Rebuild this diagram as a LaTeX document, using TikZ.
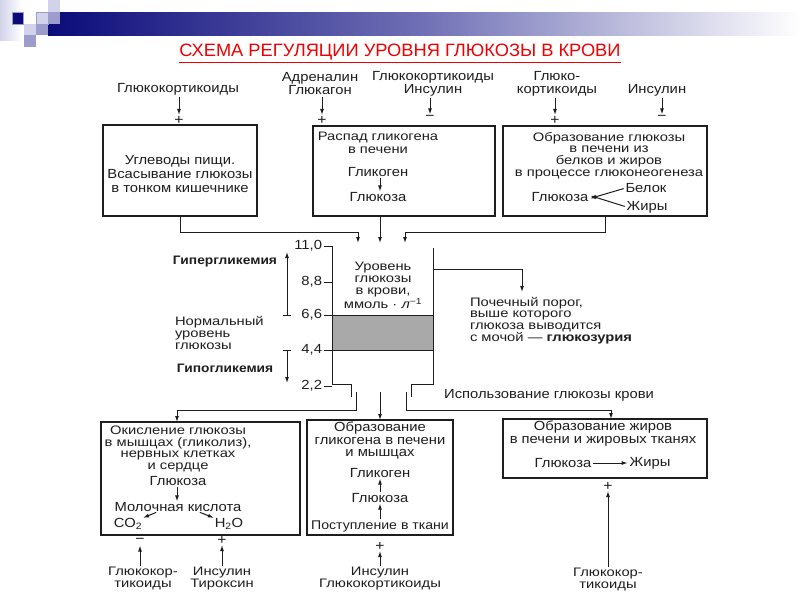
\documentclass[tikz,border=0pt]{standalone}
\usepackage{fontspec}
\usepackage{graphicx}
\setmainfont[FakeStretch=1.12]{Liberation Sans}
\newfontfamily\tightfont[FakeStretch=1.2]{Liberation Sans}
\newfontfamily\titlefont{Liberation Sans}
\usetikzlibrary{arrows.meta}
\definecolor{ink}{HTML}{1E1E1E}
\definecolor{navy}{HTML}{0B0B7A}
\definecolor{midblue}{HTML}{7070B6}
\definecolor{lav}{HTML}{D2D2EA}
\definecolor{lavm}{HTML}{9C9CCE}
\definecolor{band}{HTML}{A9A9A9}
\definecolor{titred}{HTML}{F00000}
\newcommand{\fs}[2]{\fontsize{#1}{#2}\selectfont}
\newcommand{\ts}[1]{\tightfont\fontsize{12.3}{#1}\selectfont}
\begin{document}
\begin{tikzpicture}[x=1pt,y=-1pt,
  every node/.style={inner sep=0pt, outer sep=0pt, text=ink},
  txt/.style={font=\fs{13.2}{12}, align=center},
  btxt/.style={font=\fs{12.3}{12}\bfseries, align=center},
  sg/.style={font=\fs{14}{14}},
  bx/.style={draw=ink, line width=1.3pt, anchor=north west},
  ln/.style={draw=ink, line width=1pt},
  ar/.style={draw=ink, line width=1pt, -{Latex[length=6pt,width=4pt]}},
  tk/.style={font=\fs{13.2}{12}, anchor=east}
]
\useasboundingbox[fill=white] (0,0) rectangle (800,600);

% ---------- header ----------
\shade[left color=lav, right color=white] (0,0) rectangle (22,40);
\shade[left color=navy, right color=white, middle color=midblue] (48,12) rectangle (800,35);
\fill[navy, draw=lavm, line width=0.6pt] (12,12) rectangle (23,24);
\fill[lav] (24,24) rectangle (36,35);
\fill[lavm] (24,35) rectangle (36,47);
\fill[lav, draw=lavm, line width=0.5pt] (36,12) rectangle (48,24);
\fill[lavm] (36,24) rectangle (48,35);
\fill[lav] (48,0) rectangle (60,12);
\fill[lavm] (48,12) rectangle (60,24);
\node[text=titred, anchor=base] (title) at (400,56)
  {\titlefont\resizebox{441pt}{12.5pt}{СХЕМА РЕГУЛЯЦИИ УРОВНЯ ГЛЮКОЗЫ В КРОВИ}};
\draw[titred, line width=1pt] (title.south west) ++(0,3) -- ([yshift=-3pt]title.south east);

% ---------- top labels ----------
\node[txt] (l1) at (178,89) {Глюкокортикоиды};
\node[txt, font=\fs{13.2}{13}] (l2) at (320,83.5) {Адреналин\\Глюкагон};
\node[txt, font=\fs{13.2}{13}] (l3) at (433,83.5) {Глюкокортикоиды\\Инсулин};
\node[txt, font=\fs{13.2}{13}] (l4) at (557,83.5) {Глюко-\\кортикоиды};
\node[txt] (l5) at (657,90) {Инсулин};
\node[sg] (s1) at (179,120) {+};
\node[sg] (s2) at (322,120) {+};
\node[sg] (s3) at (430,118) {−};
\node[sg] (s4) at (555,120) {+};
\node[sg] (s5) at (662,118) {−};
\foreach \i in {1,...,5}{
  \draw[ar, shorten <=2pt, shorten >=1pt] (l\i.south -| s\i) -- (s\i.north);
}

% ---------- top boxes ----------
\node[bx, minimum width=154pt, minimum height=91pt] (b1) at (103,125) {};
\node[bx, minimum width=182pt, minimum height=90pt] (b2) at (313,126) {};
\node[bx, minimum width=204pt, minimum height=90pt] (b3) at (503,126) {};

\node[txt, font=\fs{13.2}{14}] (t1) at (180,174) {Углеводы пищи.\\Всасывание глюкозы\\в тонком кишечнике};

\node[txt, font=\ts{12.4}] (t2) at (378,143) {Распад гликогена\\в печени};
\node[txt] (t2a) at (378,172) {Гликоген};
\node[txt] (t2b) at (378,197) {Глюкоза};
\draw[ar, shorten <=1pt, shorten >=1pt] (t2a.south -| 380,0) -- (t2b.north -| 380,0);

\node[txt, font=\ts{11.6}] (t3) at (609,155.5) {Образование глюкозы\\в печени из\\белков и жиров\\в процессе глюконеогенеза};
\node[txt] (t3a) at (646,188) {Белок};
\node[txt] (t3b) at (560,197) {Глюкоза};
\node[txt] (t3c) at (647,207) {Жиры};
\draw[ar, shorten <=2pt, shorten >=2pt] (t3a.west) -- ([yshift=-2pt]t3b.east);
\draw[ar, shorten <=2pt, shorten >=2pt] (t3c.west) -- ([yshift=2pt]t3b.east);

% ---------- connectors into vessel ----------
\coordinate (v1) at (358,243);
\coordinate (v2) at (380,243);
\coordinate (v3) at (405,243);
\coordinate (j1) at (358,232);
\coordinate (j3) at (405,232);
\draw[ln] (b1.south) |- (j1);
\draw[ar] (j1) -- (v1);
\draw[ar] (b2.south -| v2) -- (v2);
\draw[ln] (b3.south) |- (j3);
\draw[ar] (j3) -- (v3);

% ---------- vessel ----------
\fill[band] (332,315) rectangle (433,350);
\draw[ln] (324,315) -- (433,315);
\draw[ln] (324,350) -- (433,350);
\draw[ln] (332,246) -- (332,384) -- (351,384) -- (351,397);
\draw[ln] (433,248) -- (433,384) -- (411,384) -- (411,397);
\foreach \y in {246,282,386}{ \draw[ln] (324,\y) -- (332,\y); }
\node[tk] (n110) at (322,246) {11,0};
\node[tk] (n88) at (322,282) {8,8};
\node[tk] (n66) at (322,315) {6,6};
\node[tk] (n44) at (322,350) {4,4};
\node[tk] (n22) at (322,386) {2,2};

\node[txt, font=\ts{11.8}] (lvl) at (383,285.5) {Уровень\\глюкозы\\в крови,\\ммоль · \textit{л}\textsuperscript{−1}};

\node[txt, align=left, anchor=west, font=\ts{11.8}] (ren) at (470,320.5)
  {Почечный порог,\\выше которого\\глюкоза выводится\\с мочой — \textbf{глюкозурия}};
\coordinate (r0) at (433,269);
\coordinate (r1) at (522,292);
\draw[ar] (r0) -| (r1);

% ---------- left labels ----------
\node[btxt] (hyper) at (225,262) {Гипергликемия};
\node[txt, align=left, anchor=west, font=\ts{11.8}] (norm) at (175,333) {Нормальный\\уровень\\глюкозы};
\node[btxt] (hypo) at (225,368) {Гипогликемия};
\coordinate (ha) at (287,315);
\coordinate (hb) at (287,252);
\coordinate (ga) at (287,350);
\coordinate (gb) at (287,383);
\draw[ar] (ha) -- (hb);
\draw[ar] (ga) -- (gb);
\draw[ln] (283,315) -- (291,315);
\draw[ln] (283,350) -- (291,350);

% ---------- outlets ----------
\node[txt] (use) at (549,395) {Использование глюкозы крови};
\coordinate (p1) at (356,392);
\coordinate (k1) at (356,410);
\coordinate (pm) at (380,392);
\coordinate (p3) at (406,392);
\coordinate (k3) at (406,410);

% ---------- bottom boxes ----------
\node[bx, minimum width=199pt, minimum height=113pt] (b4) at (101,422) {};
\node[bx, minimum width=146pt, minimum height=115pt] (b5) at (307,420) {};
\node[bx, minimum width=204pt, minimum height=59pt] (b6) at (503,419) {};

\draw[ar] (p1) -- (k1) -| ([xshift=-23.5pt]b4.north);
\draw[ar] (pm) -- (b5.north);
\draw[ar] (p3) -- (k3) -| ([xshift=6pt]b6.north);

% box 4
\node[txt, font=\ts{11.6}] (t4) at (178,449) {Окисление глюкозы\\в мышцах (гликолиз),\\нервных клетках\\и сердце};
\node[txt] (t4a) at (178,481) {Глюкоза};
\node[txt] (t4b) at (178,507) {Молочная кислота};
\node[txt] (t4c) at (128,524) {CO\textsubscript{2}};
\node[txt] (t4d) at (229,524) {H\textsubscript{2}O};
\draw[ar, shorten <=1pt, shorten >=1pt] (t4a.south -| 177,0) -- (t4b.north -| 177,0);
\draw[ar, shorten <=2pt, shorten >=1pt] ([xshift=-20pt]t4b.south) -- (t4c.north east);
\draw[ar, shorten <=2pt, shorten >=1pt] ([xshift=20pt]t4b.south) -- (t4d.north west);
\node[sg] (s6) at (140,541) {−};
\node[sg] (s7) at (222,540) {+};
\node[txt, font=\ts{12}] (g6) at (143,578.5) {Глюкокор-\\тикоиды};
\node[txt, font=\ts{12}] (g7) at (222,578.5) {Инсулин\\Тироксин};
\draw[ar, shorten <=1pt, shorten >=2pt] (g6.north -| s6) -- (s6.south);
\draw[ar, shorten <=1pt, shorten >=1pt] (g7.north -| s7) -- (s7.south);

% box 5
\node[txt, font=\fs{13.2}{12.5}] (t5) at (380,440.5) {Образование\\гликогена в печени\\и мышцах};
\node[txt] (t5a) at (380,473) {Гликоген};
\node[txt] (t5b) at (380,498) {Глюкоза};
\node[txt, font=\fs{12.6}{12}] (t5c) at (380,526) {Поступление в ткани};
\draw[ar, shorten <=1pt, shorten >=1pt] (t5b.north) -- (t5a.south);
\draw[ar, shorten <=1pt, shorten >=1pt] (t5c.north) -- (t5b.south);
\node[sg] (s8) at (380,546) {+};
\node[txt, font=\ts{12}] (g8) at (380,578.5) {Инсулин\\Глюкокортикоиды};
\draw[ar, shorten <=1pt, shorten >=1pt] (g8.north) -- (s8.south);

% box 6
\node[txt, font=\fs{13.2}{13}] (t6) at (603,433.5) {Образование жиров\\в печени и жировых тканях};
\node[txt] (t6a) at (563,463) {Глюкоза};
\node[txt] (t6b) at (650,463) {Жиры};
\draw[ar, shorten <=2pt, shorten >=2pt] (t6a.east) -- (t6b.west);
\node[sg] (s9) at (608,486) {+};
\node[txt, font=\ts{12}] (g9) at (608,579) {Глюкокор-\\тикоиды};
\draw[ar, shorten <=1pt, shorten >=1pt] (g9.north -| s9) -- (s9.south);
\end{tikzpicture}
\end{document}
